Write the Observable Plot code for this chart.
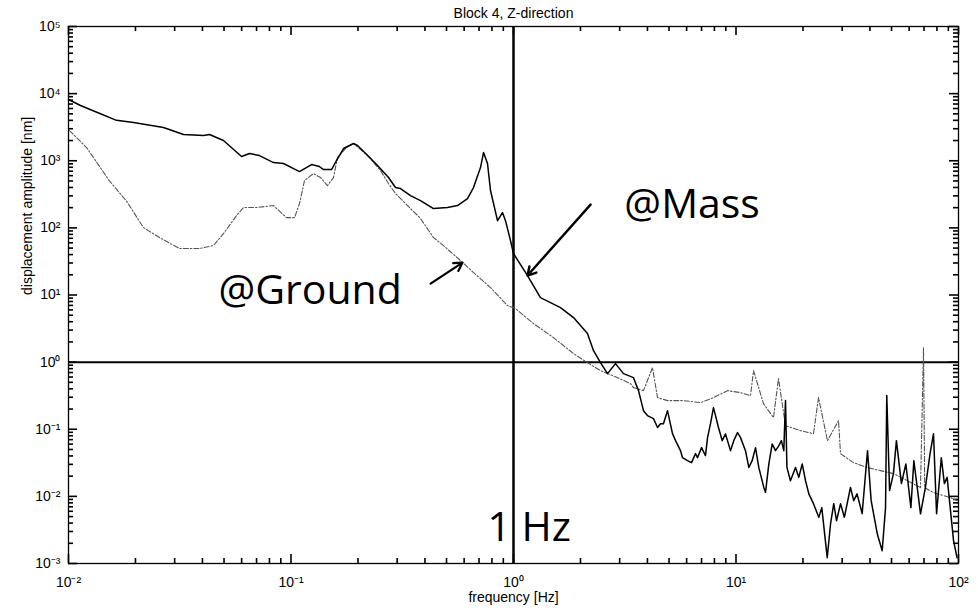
<!DOCTYPE html>
<html><head><meta charset="utf-8">
<script src="https://cdn.jsdelivr.net/npm/d3@7"></script>
<script src="https://cdn.jsdelivr.net/npm/@observablehq/plot@0.6"></script>
<style>
html,body{margin:0;padding:0;background:#fff;}
#chart{width:978px;height:611px;overflow:hidden;}
</style></head><body><div id="chart"></div>
<script>
// ---- data (frequency [Hz], displacement amplitude [nm]) ----
const massSpectrum = [
  [0.0100, 8170], [0.01132, 6650], [0.01349, 5230], [0.01643, 4000], [0.0196, 3710],
  [0.02673, 3125], [0.03288, 2460], [0.04043, 2375], [0.04301, 2460], [0.04972, 2000],
  [0.05993, 1155], [0.0651, 1280], [0.07217, 1195], [0.08343, 940], [0.09253, 909],
  [0.1092, 690], [0.1236, 878], [0.1343, 820], [0.14, 740], [0.1521, 740],
  [0.1601, 1007], [0.1722, 1520], [0.191, 1805], [0.199, 1685], [0.2184, 1250],
  [0.2448, 848], [0.2743, 562], [0.2949, 399], [0.3104, 385], [0.3444, 303],
  [0.3819, 255], [0.4368, 194], [0.505, 201], [0.5602, 215], [0.6213, 273],
  [0.661, 399], [0.7108, 792], [0.7332, 1325], [0.7641, 909], [0.7883, 360],
  [0.8475, 128], [0.8926, 169], [0.9204, 128], [0.9694, 64.7], [1.0, 41.4],
  [1.156, 19.5], [1.322, 9.15], [1.626, 6.49], [1.861, 4.61], [2.15, 2.66],
  [2.289, 1.48], [2.46, 0.983], [2.646, 0.674], [2.873, 0.95], [3.121, 0.674],
  [3.462, 0.587], [3.646, 0.376], [3.839, 0.189], [4.0, 0.16], [4.258, 0.144],
  [4.44, 0.106], [4.578, 0.121], [4.72, 0.121], [4.922, 0.189], [5.184, 0.086],
  [5.35, 0.0676], [5.63, 0.048], [5.75, 0.0377], [6.053, 0.034], [6.31, 0.0318],
  [6.58, 0.0433], [6.714, 0.0377], [7.0, 0.0532], [7.29, 0.0404], [7.45, 0.075],
  [7.68, 0.121], [7.922, 0.21], [8.342, 0.106], [8.67, 0.0676], [8.97, 0.0851],
  [9.447, 0.048], [9.77, 0.0676], [10.16, 0.089], [10.47, 0.0757], [11.03, 0.048],
  [11.42, 0.027], [11.82, 0.034], [12.24, 0.0532], [12.66, 0.027], [13.33, 0.0136],
  [13.57, 0.0115], [14.05, 0.0304], [14.54, 0.0604], [15.05, 0.048], [15.58, 0.057],
  [16.0, 0.0676], [16.4, 0.048], [16.69, 0.267], [16.94, 0.027], [17.57, 0.0171],
  [18.51, 0.027], [19.15, 0.0192], [19.84, 0.0304], [20.54, 0.0171], [21.25, 0.0109],
  [22.3, 0.00778], [23.56, 0.00487], [24.3, 0.0068], [25.7, 0.00122], [26.6, 0.00388],
  [27.5, 0.00778], [28.3, 0.00434], [29.5, 0.00778], [30.7, 0.0049], [32.7, 0.0136],
  [33.8, 0.00863], [35.0, 0.0109], [36.9, 0.00553], [39.0, 0.048], [40.5, 0.00863],
  [43.2, 0.00272], [45.4, 0.00155], [47.0, 0.0068], [47.6, 0.317], [49.0, 0.0122],
  [51.0, 0.0218], [52.6, 0.0676], [55.4, 0.0155], [58.0, 0.0304], [61.1, 0.0068],
  [63.0, 0.034], [67.5, 0.0055], [71.0, 0.0136], [74.5, 0.0433], [77.2, 0.086],
  [79.7, 0.0055], [83.7, 0.0377], [86.4, 0.0155], [88.9, 0.0192], [95.0, 0.00219],
  [98.5, 0.00122]
];
const groundSpectrum = [
  [0.0101, 2820], [0.01205, 1573], [0.01529, 500], [0.01823, 250], [0.02173, 101],
  [0.02564, 71.7], [0.03155, 49.2], [0.0388, 49.2], [0.04484, 54.5], [0.04972, 82.2],
  [0.05688, 152], [0.06116, 201], [0.06997, 201], [0.08343, 215], [0.09545, 142],
  [0.1037, 142], [0.1092, 230], [0.115, 507], [0.1262, 645], [0.1357, 562],
  [0.1459, 427], [0.1552, 562], [0.1618, 1116], [0.1776, 1573], [0.191, 1805],
  [0.2207, 1195], [0.2524, 714], [0.2743, 457], [0.2949, 325], [0.334, 215],
  [0.3819, 138], [0.4368, 71.7], [0.4845, 54.5], [0.5778, 32.6], [0.661, 21.6],
  [0.7883, 12.9], [0.9397, 6.95], [1.021, 6.27], [1.23, 3.75], [1.513, 2.32],
  [1.861, 1.34], [2.15, 0.983], [2.46, 0.747], [2.933, 0.587], [3.357, 0.478],
  [3.462, 0.417], [3.839, 0.376], [4.214, 0.828], [4.438, 0.296], [4.922, 0.267],
  [5.808, 0.267], [6.924, 0.249], [7.922, 0.296], [9.158, 0.376], [10.47, 0.351],
  [11.62, 0.317], [11.99, 0.747], [13.29, 0.241], [14.74, 0.149], [15.52, 0.568],
  [16.69, 0.113], [19.5, 0.0953], [22.3, 0.086], [23.49, 0.296], [25.77, 0.0676],
  [28.89, 0.134], [29.49, 0.0433], [33.74, 0.0318], [38.99, 0.0268], [44.61, 0.0242],
  [51.05, 0.0218], [58.98, 0.0171], [67.48, 0.0135], [69.62, 1.64], [70.5, 0.0135],
  [77.22, 0.0114], [92.04, 0.00956], [98.97, 0.00863]
];

// reference lines
const refFreq = [1];
const refAmp = [1];

// axes
const xDomain = [0.01, 100];
const yDomain = [1e-3, 1e5];
const xMajor = [0.01, 0.1, 1, 10, 100];
const yMajor = [1e-3, 1e-2, 1e-1, 1, 10, 100, 1e3, 1e4, 1e5];
const xMinor = [0.02, 0.03, 0.04, 0.05, 0.06, 0.07, 0.08, 0.09, 0.2, 0.3, 0.4, 0.5, 0.6, 0.7, 0.8, 0.9,
  2, 3, 4, 5, 6, 7, 8, 9, 20, 30, 40, 50, 60, 70, 80, 90];
const yMinor = [];
for (const m of yMajor.slice(0, -1)) for (const k of [2, 3, 4, 5, 6, 7, 8, 9]) yMinor.push(m * k);
const titleText = ["Block 4, Z-direction"];
const xLabel = ["frequency [Hz]"];
const yLabel = ["displacement amplitude [nm]"];

// annotations
const noteText = ["@Mass", "@Ground", "1 Hz"];
const noteFreq = [3.15, 0.0472, 0.764];
const noteAmp = [138, 7.45, 0.00219];
const arrowFromFreq = [2.22, 0.424];
const arrowFromAmp = [222, 14.8];
const arrowToFreq = [1.156, 0.59];
const arrowToAmp = [19.5, 30.4];
const arrowWidth = [2.4, 2.2];

const sup = {"-": "\u207B", "0": "\u2070", "1": "\u00B9", "2": "\u00B2", "3": "\u00B3", "4": "\u2074",
  "5": "\u2075", "6": "\u2076", "7": "\u2077", "8": "\u2078", "9": "\u2079"};
const fmtPow = d => "10" + String(Math.round(Math.log10(d))).split("").map(c => sup[c]).join("");

const arrows = arrowFromFreq.map((_, i) => i);

// layout
const W = 978, H = 611, ML = 68, MR = 20, MT = 26, MB = 48;
const FW = W - ML - MR, FH = H - MT - MB;
const MAJ = 9, MIN = 5;
// tick length (in px) expressed as a factor along each log axis
const xDecades = Math.log10(xDomain[1] / xDomain[0]);
const yDecades = Math.log10(yDomain[1] / yDomain[0]);
const kx = px => Math.pow(10, px * xDecades / FW);
const ky = px => Math.pow(10, px * yDecades / FH);
const tk = {stroke: "#000", strokeWidth: 1.6};

const plot = Plot.plot({
  width: W,
  height: H,
  marginLeft: ML,
  marginRight: MR,
  marginTop: MT,
  marginBottom: MB,
  style: {fontFamily: "'Liberation Sans', Arial, sans-serif", fontSize: "14px", background: "#fff", color: "#000"},
  x: {type: "log", domain: xDomain},
  y: {type: "log", domain: yDomain},
  marks: [
    // tick labels
    Plot.axisX(xMajor, {anchor: "bottom", tickSize: 0, tickPadding: 14, tickFormat: fmtPow, label: null, fontSize: 14}),
    Plot.axisY(yMajor, {anchor: "left", tickSize: 0, tickPadding: 8, tickFormat: fmtPow, label: null, fontSize: 14}),
    Plot.frame({stroke: "#000", strokeWidth: 1.3}),
    // inward ticks on all four sides
    Plot.ruleX(xMinor, {x: d => d, y1: yDomain[0], y2: yDomain[0] * ky(MIN), ...tk}),
    Plot.ruleX(xMajor, {x: d => d, y1: yDomain[0], y2: yDomain[0] * ky(MAJ), ...tk}),
    Plot.ruleX(xMinor, {x: d => d, y1: yDomain[1], y2: yDomain[1] / ky(MIN), ...tk}),
    Plot.ruleX(xMajor, {x: d => d, y1: yDomain[1], y2: yDomain[1] / ky(MAJ), ...tk}),
    Plot.ruleY(yMinor, {y: d => d, x1: xDomain[0], x2: xDomain[0] * kx(MIN), ...tk}),
    Plot.ruleY(yMajor, {y: d => d, x1: xDomain[0], x2: xDomain[0] * kx(MAJ), ...tk}),
    Plot.ruleY(yMinor, {y: d => d, x1: xDomain[1], x2: xDomain[1] / kx(MIN), ...tk}),
    Plot.ruleY(yMajor, {y: d => d, x1: xDomain[1], x2: xDomain[1] / kx(MAJ), ...tk}),
    // reference lines
    Plot.ruleX(refFreq, {stroke: "#000", strokeWidth: 2.5}),
    Plot.ruleY(refAmp, {stroke: "#000", strokeWidth: 2}),
    // spectra
    Plot.line(groundSpectrum, {x: d => d[0], y: d => d[1], stroke: "#555", strokeWidth: 1.1, strokeDasharray: "5,2,1.5,2"}),
    Plot.line(massSpectrum, {x: d => d[0], y: d => d[1], stroke: "#000", strokeWidth: 1.5}),
    // annotations
    Plot.text(noteText, {x: (d, i) => noteFreq[i], y: (d, i) => noteAmp[i], text: d => d,
      textAnchor: "start", lineAnchor: "bottom", fontSize: 41, fontFamily: "'Open Sans', sans-serif", fill: "#000"}),
    Plot.arrow(arrows, {x1: i => arrowFromFreq[i], y1: i => arrowFromAmp[i], x2: i => arrowToFreq[i], y2: i => arrowToAmp[i],
      stroke: "#000", strokeWidth: i => arrowWidth[i], headLength: 14, bend: 0}),
    // titles
    Plot.text(titleText, {frameAnchor: "top", dy: -18, fontSize: 14, fill: "#000"}),
    Plot.text(xLabel, {frameAnchor: "bottom", dy: 38, fontSize: 14, fill: "#000"}),
    Plot.text(yLabel, {frameAnchor: "left", dx: -41, rotate: -90, fontSize: 14, fill: "#000"})
  ]
});
document.getElementById("chart").appendChild(plot);
</script>
</body></html>
